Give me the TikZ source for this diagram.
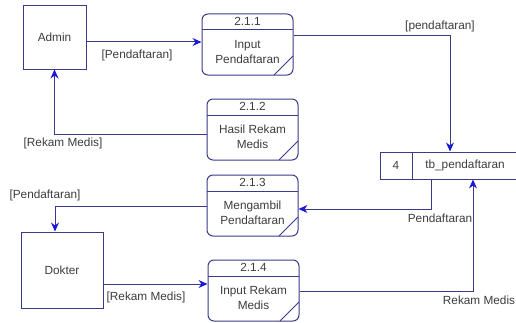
\documentclass[tikz,border=0pt]{standalone}
\usepackage{fontspec}
\setmainfont{Liberation Sans}
\usetikzlibrary{arrows.meta}
\definecolor{ln}{RGB}{58,58,135}
\definecolor{ah}{RGB}{25,25,215}
\definecolor{tx}{RGB}{60,60,60}
\begin{document}
\begin{tikzpicture}[x=1pt,y=1pt,
  font=\fontsize{11.8}{15}\selectfont, text=tx,
  entity/.style={draw=ln, line width=1pt, inner sep=0},
  proc/.style={draw=ln, line width=1pt, rounded corners=6pt, minimum width=91pt, minimum height=61pt, inner sep=0,
    path picture={
      \draw[ln, line width=1pt] ([yshift=-16pt]path picture bounding box.north west) -- ([yshift=-16pt]path picture bounding box.north east);
      \draw[ln, line width=1pt] ([xshift=-19pt]path picture bounding box.south east) -- ([yshift=19pt]path picture bounding box.south east);
    }},
  body/.style={align=center, inner sep=0},
  flow/.style={draw=ln, line width=1pt, -{Stealth[length=9pt,width=8pt,color=ah]}},
  lbl/.style={inner sep=1pt}]
\useasboundingbox (0,0) rectangle (516,322);

% entities
\node[entity, minimum width=63pt, minimum height=63pt] (admin) at (54.5,284.5) {};
\node (admint) at (admin.center) {Admin};
\node[entity, minimum width=82pt, minimum height=76pt] (dokter) at (62,52) {};
\node (doktert) at (dokter.center) {Dokter};

% processes
\node[proc] (p1) at (247.5,277.5) {};
\node[body] (p1n) at ([yshift=-8pt]p1.north) {2.1.1};
\node[body] (p1t) at ([yshift=-38.5pt]p1.north) {Input\\Pendaftaran};

\node[proc] (p2) at (252.5,192.5) {};
\node[body] (p2n) at ([yshift=-8pt]p2.north) {2.1.2};
\node[body] (p2t) at ([yshift=-38.5pt]p2.north) {Hasil Rekam\\Medis};

\node[proc] (p3) at (252.5,116.5) {};
\node[body] (p3n) at ([yshift=-8pt]p3.north) {2.1.3};
\node[body] (p3t) at ([yshift=-38.5pt]p3.north) {Mengambil\\Pendaftaran};

\node[proc] (p4) at (253.5,31.5) {};
\node[body] (p4n) at ([yshift=-8pt]p4.north) {2.1.4};
\node[body] (p4t) at ([yshift=-38.5pt]p4.north) {Input Rekam\\Medis};

% data store
\node[entity, minimum width=140pt, minimum height=27pt] (store) at (450,156.5) {};
\draw[ln, line width=1pt] (store.north -| 412,0) -- (store.south -| 412,0);
\node (storen) at (396,156.5) {4};
\node (storet) at (465,156.5) {tb\_pendaftaran};

% flows
\draw[flow] (admin.east |- 0,280) -- (p1.west |- 0,280);
\node[lbl] (l1) at (137,267) {[Pendaftaran]};

\draw[flow] (p1.east |- 0,286) -| (store.north);
\node[lbl] (l2) at (440,296) {[pendaftaran]};

\draw[flow] (p2.west |- 0,188) -| (admin.south);
\node[lbl] (l3) at (63,179) {[Rekam Medis]};

\draw[flow] (store.south -| 431,0) |- (p3.east |- 0,113);
\node[lbl] (l4) at (440,104) {Pendaftaran};

\draw[flow] (p3.west |- 0,116) -| (dokter.north -| 55,0);
\node[lbl] (l5) at (45,127) {[Pendaftaran]};

\draw[flow] (dokter.east |- 0,38) -- (p4.west |- 0,38);
\node[lbl] (l6) at (146,25) {[Rekam Medis]};

\draw[flow] (p4.east |- 0,31) -| (store.south -| 473,0);
\node[lbl] (l7) at (479,22) {Rekam Medis};
\end{tikzpicture}
\end{document}
